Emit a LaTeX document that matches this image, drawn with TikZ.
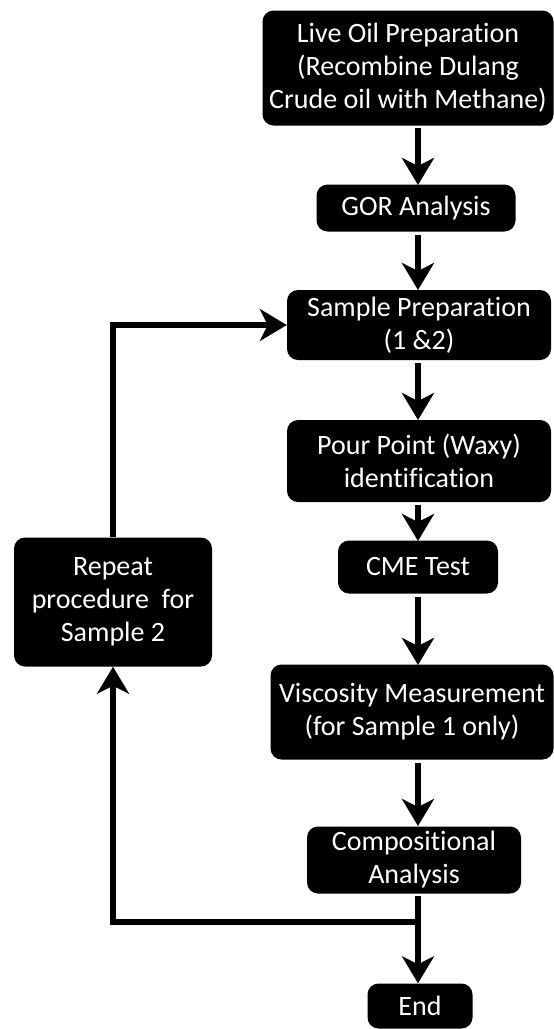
\documentclass[tikz,border=0pt]{standalone}
\usepackage{fontspec}
\setmainfont{Carlito}[Ligatures=NoCommon]
\usepackage{tikz}
\usetikzlibrary{positioning,arrows.meta}
\tikzset{
  stage/.style={fill=black,text=white,rounded corners=11pt,align=center,
    inner sep=0,font=\fontsize{28}{33}\selectfont},
  flow/.style={line width=6pt,-{Stealth[length=27pt,width=32pt,inset=8pt]},
    shorten <=3pt}
}
\newcommand{\stagebox}[6]{% x, y, name, width, height, text
  \node[stage,minimum width=#4pt,minimum height=#5pt] (#3) at (#1,#2) {#6};}

\begin{document}
\begin{tikzpicture}[x=1pt,y=-1pt]
  \useasboundingbox (0,0) rectangle (554,1029);
  % main column
  \stagebox{408}{68}{live}{291}{115}{Live Oil Preparation\\(Recombine Dulang\\Crude oil with Methane)}
  \stagebox{416}{208}{gor}{199}{47}{GOR Analysis}
  \stagebox{419}{325}{prep}{264}{70}{Sample Preparation\\(1 \&2)}
  \stagebox{419}{461}{pour}{264}{82}{Pour Point (Waxy)\\identification}
  \stagebox{418}{567}{cme}{160}{53}{CME Test}
  \stagebox{412}{712}{visc}{283}{95}{Viscosity Measurement\\(for Sample 1 only)}
  \stagebox{414}{860}{comp}{214}{67}{Compositional\\Analysis}
  \stagebox{420}{1006}{endn}{105}{45}{End}
  % side loop
  \stagebox{113}{602}{rep}{198}{129}{Repeat\\procedure\ \ for\\Sample 2}
  \coordinate (jn) at (418,922);
  % arrows
  \draw[flow] (418,125) -- (418,185);
  \draw[flow] (418,232) -- (418,290);
  \draw[flow] (418,360) -- (418,420);
  \draw[flow] (418,502) -- (418,541);
  \draw[flow] (418,594) -- (418,665);
  \draw[flow] (418,760) -- (418,826);
  \draw[flow] (418,893) -- (endn.north -| jn);
  \draw[flow,shorten <=0pt] (jn) -| (rep.south);
  \draw[flow,shorten <=0pt] (rep.north) |- (prep.west);
\end{tikzpicture}
\end{document}
